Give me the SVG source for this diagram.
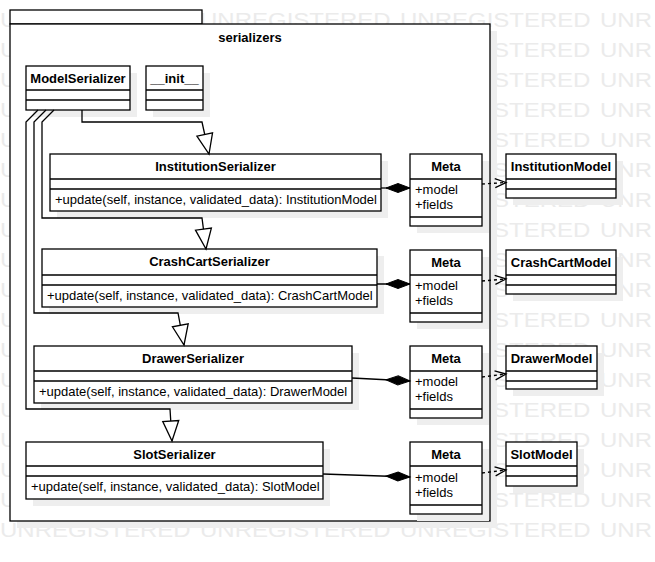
<svg xmlns="http://www.w3.org/2000/svg" width="655" height="562" viewBox="0 0 655 562">
<style>
.box{fill:#fff;stroke:#000;stroke-width:1.3}
.sh{fill:#eeeeee;stroke:none}
.ln{fill:none;stroke:#000;stroke-width:1.3}
.dash{fill:none;stroke:#000;stroke-width:1.3;stroke-dasharray:3 3}
.n{font-family:"Liberation Sans",Arial,sans-serif;font-size:13px;font-weight:bold;text-anchor:middle;fill:#000}
.m{font-family:"Liberation Sans",Arial,sans-serif;font-size:13px;fill:#000}
.wm{font-family:"Liberation Sans",Arial,sans-serif;font-size:24px;fill:#ebebeb}
</style>
<defs>
<marker id="gen" markerUnits="userSpaceOnUse" orient="auto" refX="0" refY="0" markerWidth="1" markerHeight="1" style="overflow:visible">
<path d="M0,0 L-20,-8 L-20,8 Z" fill="#fff" stroke="#000" stroke-width="1.3"/>
</marker>
<marker id="comp" markerUnits="userSpaceOnUse" orient="auto" refX="0" refY="0" markerWidth="1" markerHeight="1" style="overflow:visible">
<path d="M0,0 L-12,-4.5 L-24,0 L-12,4.5 Z" fill="#000" stroke="#000" stroke-width="1"/>
</marker>
<marker id="dep" markerUnits="userSpaceOnUse" orient="auto" refX="0" refY="0" markerWidth="1" markerHeight="1" style="overflow:visible">
<path d="M-11,-4.5 L0,0 L-11,4.5" fill="none" stroke="#000" stroke-width="1.3"/>
</marker>
</defs>
<rect x="0" y="0" width="655" height="562" fill="#fff"/>
<g id="watermark">
<text class="wm" transform="matrix(1 0 0 0.83 0 27)" x="0" y="0">U</text>
<text class="wm" transform="matrix(1 0 0 0.83 0 27)" x="200" y="0">UNREGISTERED</text>
<text class="wm" transform="matrix(1 0 0 0.83 0 27)" x="400" y="0">UNREGISTERED</text>
<text class="wm" transform="matrix(1 0 0 0.83 0 27)" x="600" y="0">UNR</text>
<text class="wm" transform="matrix(1 0 0 0.83 0 57)" x="0" y="0">U</text>
<text class="wm" transform="matrix(1 0 0 0.83 0 57)" y="0"><tspan x="493">STERED</tspan><tspan x="600">UNR</tspan></text>
<text class="wm" transform="matrix(1 0 0 0.83 0 87)" x="0" y="0">U</text>
<text class="wm" transform="matrix(1 0 0 0.83 0 87)" y="0"><tspan x="493">STERED</tspan><tspan x="600">UNR</tspan></text>
<text class="wm" transform="matrix(1 0 0 0.83 0 117)" x="0" y="0">U</text>
<text class="wm" transform="matrix(1 0 0 0.83 0 117)" y="0"><tspan x="493">STERED</tspan><tspan x="600">UNR</tspan></text>
<text class="wm" transform="matrix(1 0 0 0.83 0 147)" x="0" y="0">U</text>
<text class="wm" transform="matrix(1 0 0 0.83 0 147)" y="0"><tspan x="493">STERED</tspan><tspan x="600">UNR</tspan></text>
<text class="wm" transform="matrix(1 0 0 0.83 0 177)" x="0" y="0">U</text>
<text class="wm" transform="matrix(1 0 0 0.83 0 177)" y="0"><tspan x="493">STERED</tspan><tspan x="600">UNR</tspan></text>
<text class="wm" transform="matrix(1 0 0 0.83 0 207)" x="0" y="0">U</text>
<text class="wm" transform="matrix(1 0 0 0.83 0 207)" y="0"><tspan x="493">STERED</tspan><tspan x="600">UNR</tspan></text>
<text class="wm" transform="matrix(1 0 0 0.83 0 237)" x="0" y="0">U</text>
<text class="wm" transform="matrix(1 0 0 0.83 0 237)" y="0"><tspan x="493">STERED</tspan><tspan x="600">UNR</tspan></text>
<text class="wm" transform="matrix(1 0 0 0.83 0 267)" x="0" y="0">U</text>
<text class="wm" transform="matrix(1 0 0 0.83 0 267)" y="0"><tspan x="493">STERED</tspan><tspan x="600">UNR</tspan></text>
<text class="wm" transform="matrix(1 0 0 0.83 0 297)" x="0" y="0">U</text>
<text class="wm" transform="matrix(1 0 0 0.83 0 297)" y="0"><tspan x="493">STERED</tspan><tspan x="600">UNR</tspan></text>
<text class="wm" transform="matrix(1 0 0 0.83 0 327)" x="0" y="0">U</text>
<text class="wm" transform="matrix(1 0 0 0.83 0 327)" y="0"><tspan x="493">STERED</tspan><tspan x="600">UNR</tspan></text>
<text class="wm" transform="matrix(1 0 0 0.83 0 357)" x="0" y="0">U</text>
<text class="wm" transform="matrix(1 0 0 0.83 0 357)" y="0"><tspan x="493">STERED</tspan><tspan x="600">UNR</tspan></text>
<text class="wm" transform="matrix(1 0 0 0.83 0 387)" x="0" y="0">U</text>
<text class="wm" transform="matrix(1 0 0 0.83 0 387)" y="0"><tspan x="493">STERED</tspan><tspan x="600">UNR</tspan></text>
<text class="wm" transform="matrix(1 0 0 0.83 0 417)" x="0" y="0">U</text>
<text class="wm" transform="matrix(1 0 0 0.83 0 417)" y="0"><tspan x="493">STERED</tspan><tspan x="600">UNR</tspan></text>
<text class="wm" transform="matrix(1 0 0 0.83 0 447)" x="0" y="0">U</text>
<text class="wm" transform="matrix(1 0 0 0.83 0 447)" y="0"><tspan x="493">STERED</tspan><tspan x="600">UNR</tspan></text>
<text class="wm" transform="matrix(1 0 0 0.83 0 477)" x="0" y="0">U</text>
<text class="wm" transform="matrix(1 0 0 0.83 0 477)" y="0"><tspan x="493">STERED</tspan><tspan x="600">UNR</tspan></text>
<text class="wm" transform="matrix(1 0 0 0.83 0 507)" x="0" y="0">U</text>
<text class="wm" transform="matrix(1 0 0 0.83 0 507)" y="0"><tspan x="493">STERED</tspan><tspan x="600">UNR</tspan></text>
<text class="wm" transform="matrix(1 0 0 0.83 0 537)" x="0" y="0">UNREGISTERED</text>
<text class="wm" transform="matrix(1 0 0 0.83 0 537)" x="200" y="0">UNREGISTERED</text>
<text class="wm" transform="matrix(1 0 0 0.83 0 537)" x="400" y="0">UNREGISTERED</text>
<text class="wm" transform="matrix(1 0 0 0.83 0 537)" x="600" y="0">UNR</text>
</g>
<g id="serializers">
<rect class="sh" x="17" y="31" width="480" height="497"/>
<rect class="box" x="10" y="10" width="192" height="14"/>
<rect class="box" x="10" y="24" width="480" height="497"/>
<text class="n" x="250" y="42">serializers</text>
</g>
<g id="ModelSerializer">
<rect class="sh" x="33" y="73" width="104" height="44"/>
<rect class="box" x="26" y="66" width="104" height="44"/>
<path class="ln" d="M26,90H130M26,100H130"/>
<text class="n" x="78" y="83">ModelSerializer</text>
</g>
<g id="init">
<rect class="sh" x="153" y="73" width="57" height="44"/>
<rect class="box" x="146" y="66" width="57" height="44"/>
<path class="ln" d="M146,90H203M146,100H203"/>
<text class="n" x="174.5" y="83">__init__</text>
</g>
<g id="InstitutionSerializer">
<rect class="sh" x="57" y="161" width="331" height="57"/>
<rect class="box" x="50" y="154" width="331" height="57"/>
<path class="ln" d="M50,179H381M50,189H381"/>
<text class="n" x="215.5" y="171">InstitutionSerializer</text>
<text class="m" x="55" y="204">+update(self, instance, validated_data): InstitutionModel</text>
</g>
<g id="CrashCartSerializer">
<rect class="sh" x="49" y="256" width="335" height="58"/>
<rect class="box" x="42" y="249" width="335" height="58"/>
<path class="ln" d="M42,275H377M42,285H377"/>
<text class="n" x="209.5" y="266">CrashCartSerializer</text>
<text class="m" x="47" y="300">+update(self, instance, validated_data): CrashCartModel</text>
</g>
<g id="DrawerSerializer">
<rect class="sh" x="41" y="353" width="318" height="57"/>
<rect class="box" x="34" y="346" width="318" height="57"/>
<path class="ln" d="M34,371H352M34,381H352"/>
<text class="n" x="193" y="363">DrawerSerializer</text>
<text class="m" x="39" y="396">+update(self, instance, validated_data): DrawerModel</text>
</g>
<g id="SlotSerializer">
<rect class="sh" x="33" y="449" width="297" height="57"/>
<rect class="box" x="26" y="442" width="297" height="57"/>
<path class="ln" d="M26,466H323M26,476H323"/>
<text class="n" x="174.5" y="459">SlotSerializer</text>
<text class="m" x="31" y="491">+update(self, instance, validated_data): SlotModel</text>
</g>
<g id="Meta1">
<rect class="sh" x="417" y="161" width="72" height="72"/>
<rect class="box" x="410" y="154" width="72" height="72"/>
<path class="ln" d="M410,179H482M410,217H482"/>
<text class="n" x="446" y="171">Meta</text>
<text class="m" x="415" y="194">+model</text>
<text class="m" x="415" y="208.5">+fields</text>
</g>
<g id="Meta2">
<rect class="sh" x="417" y="257" width="72" height="72"/>
<rect class="box" x="410" y="250" width="72" height="72"/>
<path class="ln" d="M410,275H482M410,313H482"/>
<text class="n" x="446" y="267">Meta</text>
<text class="m" x="415" y="290">+model</text>
<text class="m" x="415" y="304.5">+fields</text>
</g>
<g id="Meta3">
<rect class="sh" x="417" y="353" width="72" height="72"/>
<rect class="box" x="410" y="346" width="72" height="72"/>
<path class="ln" d="M410,371H482M410,409H482"/>
<text class="n" x="446" y="363">Meta</text>
<text class="m" x="415" y="386">+model</text>
<text class="m" x="415" y="400.5">+fields</text>
</g>
<g id="Meta4">
<rect class="sh" x="417" y="449" width="72" height="72"/>
<rect class="box" x="410" y="442" width="72" height="72"/>
<path class="ln" d="M410,466H482M410,505H482"/>
<text class="n" x="446" y="459">Meta</text>
<text class="m" x="415" y="482">+model</text>
<text class="m" x="415" y="496.5">+fields</text>
</g>
<g id="InstitutionModel">
<rect class="sh" x="513" y="161" width="110" height="44"/>
<rect class="box" x="506" y="154" width="110" height="44"/>
<path class="ln" d="M506,179H616M506,189H616"/>
<text class="n" x="561" y="171">InstitutionModel</text>
</g>
<g id="CrashCartModel">
<rect class="sh" x="513" y="257" width="110" height="44"/>
<rect class="box" x="506" y="250" width="110" height="44"/>
<path class="ln" d="M506,275H616M506,285H616"/>
<text class="n" x="561" y="267">CrashCartModel</text>
</g>
<g id="DrawerModel">
<rect class="sh" x="513" y="353" width="91" height="43"/>
<rect class="box" x="506" y="346" width="91" height="43"/>
<path class="ln" d="M506,371H597M506,381H597"/>
<text class="n" x="551.5" y="363">DrawerModel</text>
</g>
<g id="SlotModel">
<rect class="sh" x="513" y="449" width="71" height="44"/>
<rect class="box" x="506" y="442" width="71" height="44"/>
<path class="ln" d="M506,466H577M506,476H577"/>
<text class="n" x="541.5" y="459">SlotModel</text>
</g>
<g id="connectors">
<path class="ln" d="M82,110V122H202L209,154" marker-end="url(#gen)"/>
<path class="ln" d="M54,110L42,122V218H202L206,249" marker-end="url(#gen)"/>
<path class="ln" d="M46,110L34,122V313H178L184,345" marker-end="url(#gen)"/>
<path class="ln" d="M38,110L26,122V409H170L172,441" marker-end="url(#gen)"/>
<path class="ln" d="M381,188H410" marker-end="url(#comp)"/>
<path class="ln" d="M377,284H410" marker-end="url(#comp)"/>
<path class="ln" d="M352,378L410,381" marker-end="url(#comp)"/>
<path class="ln" d="M323,474L410,477" marker-end="url(#comp)"/>
<path class="dash" d="M482,184L506,182.5" marker-end="url(#dep)"/>
<path class="dash" d="M482,281L506,279" marker-end="url(#dep)"/>
<path class="dash" d="M482,377L506,374" marker-end="url(#dep)"/>
<path class="dash" d="M482,473L506,470" marker-end="url(#dep)"/>
</g>
</svg>
